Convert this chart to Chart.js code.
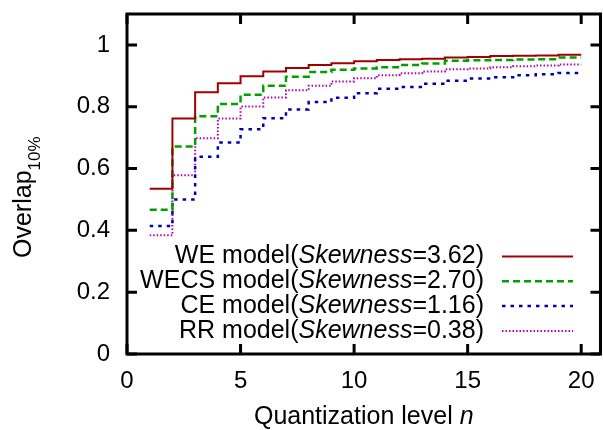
<!DOCTYPE html>
<html>
<head>
<meta charset="utf-8">
<script src="https://cdn.jsdelivr.net/npm/chart.js@4"></script>
<style>
  html, body { margin: 0; padding: 0; background: #fff; }
  #wrap { width: 603px; height: 430px; position: relative; }
</style>
</head>
<body>
<div id="wrap"><canvas id="c" width="603" height="430"></canvas></div>
<script>
// ---- data ----
const levels = [1,2,3,4,5,6,7,8,9,10,11,12,13,14,15,16,17,18,19,20];
const weValues   = [0.535,0.762,0.847,0.876,0.899,0.914,0.925,0.935,0.941,0.947,0.951,0.954,0.955,0.959,0.961,0.964,0.965,0.966,0.968,0.968];
const wecsValues = [0.467,0.671,0.769,0.809,0.839,0.868,0.897,0.912,0.920,0.924,0.928,0.935,0.940,0.949,0.950,0.951,0.953,0.954,0.959,0.959];
const ceValues   = [0.414,0.500,0.638,0.684,0.727,0.763,0.791,0.815,0.829,0.844,0.858,0.864,0.874,0.884,0.891,0.895,0.902,0.905,0.909,0.909];
const rrValues   = [0.384,0.578,0.698,0.762,0.801,0.830,0.853,0.868,0.882,0.892,0.902,0.908,0.914,0.921,0.924,0.928,0.931,0.933,0.937,0.937];
const modelNames = ['WE', 'WECS', 'CE', 'RR'];
const skewness   = ['3.62', '2.70', '1.16', '0.38'];
const xTicks = [0, 5, 10, 15, 20];
const yTicks = [0, 0.2, 0.4, 0.6, 0.8, 1];

const FONT = "'Liberation Sans', Arial, sans-serif";
const styles = [
  { color: '#a00000', width: 2,   dash: [] },
  { color: '#00a000', width: 2.5, dash: [7, 4] },
  { color: '#0000b0', width: 2.5, dash: [3.5, 5] },
  { color: '#b000b0', width: 2,   dash: [1.5, 2] }
];
const series = [weValues, wecsValues, ceValues, rrValues];

const datasets = series.map((vals, i) => ({
  label: modelNames[i] + ' model(Skewness=' + skewness[i] + ')',
  data: levels.map((n, k) => ({ x: n, y: vals[k] })),
  borderColor: styles[i].color,
  borderWidth: styles[i].width,
  borderDash: styles[i].dash,
  stepped: 'before',
  pointRadius: 0,
  fill: false,
  tension: 0
}));

const framePlugin = {
  id: 'frame',
  afterDraw(chart) {
    const { ctx, chartArea: a, scales } = chart;
    const xs = scales.x, ys = scales.y;
    ctx.save();
    ctx.strokeStyle = '#000';
    ctx.lineWidth = 3;
    ctx.setLineDash([]);
    ctx.strokeRect(a.left, a.top, a.right - a.left, a.bottom - a.top);
    ctx.lineWidth = 3;
    ctx.beginPath();
    const tl = 10;
    yTicks.forEach(v => {
      const y = ys.getPixelForValue(v);
      ctx.moveTo(a.left, y); ctx.lineTo(a.left + tl, y);
      ctx.moveTo(a.right, y); ctx.lineTo(a.right - tl, y);
    });
    xTicks.forEach(v => {
      const x = xs.getPixelForValue(v);
      ctx.moveTo(x, a.bottom); ctx.lineTo(x, a.bottom - tl);
      ctx.moveTo(x, a.top); ctx.lineTo(x, a.top + tl);
    });
    ctx.stroke();

    // legend
    ctx.fillStyle = '#000';
    ctx.textBaseline = 'middle';
    const textRight = 484, lineL = 502, lineR = 573;
    const y0 = 256.5, dy = 24.8;
    modelNames.forEach((name, i) => {
      const y = y0 + i * dy;
      const p1 = name + ' model(';
      const p2 = 'Skewness';
      const p3 = '=' + skewness[i] + ')';
      const nf = '25px ' + FONT, itf = 'italic 25px ' + FONT;
      ctx.font = nf; const w1 = ctx.measureText(p1).width; const w3 = ctx.measureText(p3).width;
      ctx.font = itf; const w2 = ctx.measureText(p2).width;
      let x = textRight - w1 - w2 - w3;
      ctx.textAlign = 'left';
      ctx.font = nf; ctx.fillText(p1, x, y); x += w1;
      ctx.font = itf; ctx.fillText(p2, x, y); x += w2;
      ctx.font = nf; ctx.fillText(p3, x, y);
      ctx.beginPath();
      ctx.strokeStyle = styles[i].color;
      ctx.lineWidth = styles[i].width;
      ctx.setLineDash(styles[i].dash);
      ctx.moveTo(lineL, y); ctx.lineTo(lineR, y);
      ctx.stroke();
    });
    ctx.setLineDash([]);

    // x title
    ctx.fillStyle = '#000';
    ctx.textBaseline = 'alphabetic';
    const t1 = 'Quantization level ', t2 = 'n';
    ctx.font = '25px ' + FONT; const tw1 = ctx.measureText(t1).width;
    ctx.font = 'italic 25px ' + FONT; const tw2 = ctx.measureText(t2).width;
    let tx = (a.left + a.right) / 2 - (tw1 + tw2) / 2;
    ctx.font = '25px ' + FONT; ctx.textAlign = 'left'; ctx.fillText(t1, tx, 424);
    ctx.font = 'italic 25px ' + FONT; ctx.fillText(t2, tx + tw1, 424);

    // y title
    ctx.save();
    ctx.translate(31, 258);
    ctx.rotate(-Math.PI / 2);
    ctx.font = '25px ' + FONT;
    ctx.textAlign = 'left';
    ctx.fillText('Overlap', 0, 0);
    const ow = ctx.measureText('Overlap').width;
    ctx.font = '17px ' + FONT;
    ctx.fillText('10%', ow, 9);
    ctx.restore();
    ctx.restore();
  }
};

new Chart(document.getElementById('c'), {
  type: 'line',
  data: { datasets },
  options: {
    responsive: false,
    animation: false,
    devicePixelRatio: 1,
    layout: { padding: { left: 0, top: 14, right: 2.5, bottom: 0 } },
    plugins: { legend: { display: false }, tooltip: { enabled: false } },
    scales: {
      x: {
        type: 'linear', min: 0, max: 20.85,
        afterBuildTicks: s => { s.ticks = xTicks.map(v => ({ value: v })); },
        afterFit: s => { s.height = 76; s.paddingLeft = 0; s.paddingRight = 0; s.paddingTop = 0; s.paddingBottom = 0; },
        grid: { display: false, drawTicks: false },
        border: { display: false },
        ticks: { color: '#000', padding: 13, maxRotation: 0, font: { family: FONT, size: 24 } }
      },
      y: {
        type: 'linear', min: 0, max: 1.1,
        afterBuildTicks: s => { s.ticks = yTicks.map(v => ({ value: v })); },
        afterFit: s => { s.width = 127; s.paddingTop = 0; s.paddingBottom = 0; s.paddingLeft = 0; s.paddingRight = 0; },
        grid: { display: false, drawTicks: false },
        border: { display: false },
        ticks: { color: '#000', padding: 17, font: { family: FONT, size: 24 },
                 callback: v => String(v) }
      }
    }
  },
  plugins: [framePlugin]
});
</script>
</body>
</html>
